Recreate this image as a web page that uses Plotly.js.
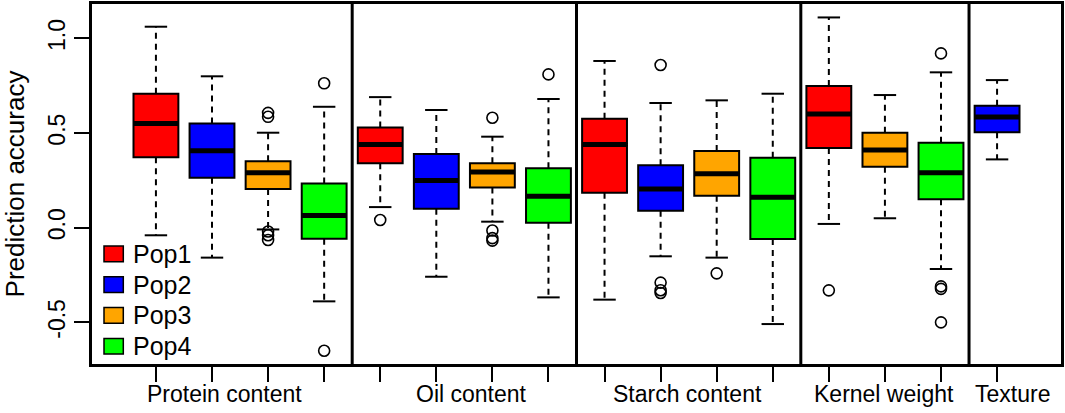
<!DOCTYPE html>
<html>
<head>
<meta charset="utf-8">
<script src="https://cdn.plot.ly/plotly-3.0.1.min.js"></script>
<style>
html, body { margin: 0; padding: 0; background: #fff; }
#chart { width: 1065px; height: 413px; }
</style>
</head>
<body>
<div id="chart"></div>
<script>
var groups = ['Protein content', 'Oil content', 'Starch content', 'Kernel weight', 'Texture'];
var pops = ['Pop1', 'Pop2', 'Pop3', 'Pop4'];

// one entry per box, left to right
var boxGroup = [0, 0, 0, 0, 1, 1, 1, 1, 2, 2, 2, 2, 3, 3, 3, 4];
var boxPop   = [0, 1, 2, 3, 0, 1, 2, 3, 0, 1, 2, 3, 0, 2, 3, 1];

var lowerWhisker = [-0.040, -0.158, -0.009, -0.389, 0.109, -0.259, 0.032, -0.368, -0.380, -0.151, -0.158, -0.509, 0.020, 0.050, -0.218, 0.361];
var q1     = [0.372, 0.264, 0.204, -0.058, 0.340, 0.100, 0.213, 0.026, 0.185, 0.090, 0.169, -0.060, 0.421, 0.322, 0.150, 0.504];
var median = [0.551, 0.407, 0.291, 0.065, 0.440, 0.250, 0.294, 0.166, 0.440, 0.204, 0.285, 0.161, 0.601, 0.410, 0.291, 0.585];
var q3     = [0.708, 0.551, 0.351, 0.234, 0.530, 0.389, 0.340, 0.314, 0.576, 0.330, 0.405, 0.370, 0.749, 0.502, 0.449, 0.645];
var upperWhisker = [1.062, 0.800, 0.502, 0.639, 0.690, 0.622, 0.481, 0.680, 0.881, 0.659, 0.673, 0.708, 1.111, 0.701, 0.821, 0.780];
var outliers = [
  [], [], [0.607, 0.586, -0.020, -0.040, -0.065], [0.763, -0.650],
  [0.041], [], [0.581, -0.015, -0.055, -0.068], [0.810],
  [], [0.860, -0.290, -0.330, -0.345], [-0.241], [],
  [-0.331], [], [0.921, -0.310, -0.323, -0.500],
  []
];

// styling
var popColors = ['#FF0000', '#0000FF', '#FFA500', '#00FF00'];
var FONT = 'Liberation Sans, Arial, Helvetica, sans-serif';
var boxW = 0.8, capHalf = 0.2;
var labelX = [2.23, 6.62, 10.48, 13.99, 16.28];

var pos = boxPop.map(function (d, i) { return i + 1; });

var data = [];

pops.forEach(function (name, p) {
  var idx = [];
  boxPop.forEach(function (bp, i) { if (bp === p) idx.push(i); });
  data.push({
    type: 'box',
    orientation: 'v',
    name: name,
    x: idx.map(function (i) { return pos[i]; }),
    q1: idx.map(function (i) { return q1[i]; }),
    median: idx.map(function (i) { return median[i]; }),
    q3: idx.map(function (i) { return q3[i]; }),
    lowerfence: idx.map(function (i) { return q1[i]; }),
    upperfence: idx.map(function (i) { return q3[i]; }),
    width: boxW,
    whiskerwidth: 0,
    boxpoints: false,
    fillcolor: popColors[p],
    line: { color: '#000', width: 2 },
    hoverinfo: 'skip',
    showlegend: false
  });
});

var wx = [], wy = [], cx = [], cy = [], mx = [], my = [], ox = [], oy = [];
pos.forEach(function (x, i) {
  wx.push(x, x, null, x, x, null);
  wy.push(q3[i], upperWhisker[i], null, q1[i], lowerWhisker[i], null);
  cx.push(x - capHalf, x + capHalf, null, x - capHalf, x + capHalf, null);
  cy.push(upperWhisker[i], upperWhisker[i], null, lowerWhisker[i], lowerWhisker[i], null);
  mx.push(x - boxW / 2, x + boxW / 2, null);
  my.push(median[i], median[i], null);
  outliers[i].forEach(function (v) { ox.push(x); oy.push(v); });
});

data.push({
  type: 'scatter', mode: 'lines', x: wx, y: wy,
  line: { color: '#000', width: 2, dash: '6px,5px' },
  hoverinfo: 'skip', showlegend: false
});
data.push({
  type: 'scatter', mode: 'lines', x: cx, y: cy,
  line: { color: '#000', width: 2 },
  hoverinfo: 'skip', showlegend: false
});
data.push({
  type: 'scatter', mode: 'lines', x: mx, y: my,
  line: { color: '#000', width: 5 },
  hoverinfo: 'skip', showlegend: false
});
data.push({
  type: 'scatter', mode: 'markers', x: ox, y: oy,
  marker: { symbol: 'circle-open', size: 11, color: '#000', line: { width: 1.6, color: '#000' } },
  hoverinfo: 'skip', showlegend: false
});

var shapes = [];
for (var i = 1; i < boxGroup.length; i++) {
  if (boxGroup[i] !== boxGroup[i - 1]) {
    shapes.push({
      type: 'line', xref: 'x', yref: 'paper',
      x0: i + 0.5, x1: i + 0.5, y0: 0, y1: 1,
      line: { color: '#000', width: 3 }
    });
  }
}

var annotations = groups.map(function (g, k) {
  return {
    text: g, xref: 'x', yref: 'paper', x: labelX[k], y: 0,
    xanchor: 'center', yanchor: 'middle', yshift: -30,
    showarrow: false, font: { family: FONT, size: 23, color: '#000' }
  };
});

// legend drawn as squares + labels (plot area: 969 x 360 px)
var pw = 969, ph = 360;
pops.forEach(function (name, p) {
  var top = 246 - 4 + p * 30.8;   // px from top of plot area
  shapes.push({
    type: 'rect', xref: 'paper', yref: 'paper',
    x0: 12 / pw, x1: 31.3 / pw,
    y0: 1 - (top + 15.7) / ph, y1: 1 - top / ph,
    fillcolor: popColors[p], line: { color: '#000', width: 1.5 }
  });
  annotations.push({
    text: name, xref: 'paper', yref: 'paper',
    x: 39 / pw, y: 1 - (top + 7.85) / ph,
    xanchor: 'left', yanchor: 'middle',
    showarrow: false, font: { family: FONT, size: 25, color: '#000' }
  });
});

var layout = {
  width: 1065,
  height: 413,
  margin: { l: 92, r: 4, t: 4, b: 49 },
  paper_bgcolor: '#fff',
  plot_bgcolor: '#fff',
  font: { family: FONT, color: '#000' },
  showlegend: false,
  xaxis: {
    range: [-0.14, 17.14],
    tickvals: pos,
    ticktext: pos.map(function () { return ''; }),
    ticks: 'outside', ticklen: 15, tickwidth: 2, tickcolor: '#000',
    showline: true, mirror: true, linewidth: 3, linecolor: '#000',
    showgrid: false, zeroline: false, fixedrange: true
  },
  yaxis: {
    range: [-0.72, 1.182],
    tickvals: [-0.5, 0, 0.5, 1],
    ticktext: ['-0.5', '0.0', '0.5', '1.0'],
    tickangle: -90,
    tickfont: { family: FONT, size: 23, color: '#000' },
    ticks: 'outside', ticklen: 15, tickwidth: 2, tickcolor: '#000',
    showline: true, mirror: true, linewidth: 3, linecolor: '#000',
    showgrid: false, zeroline: false, fixedrange: true,
    title: { text: 'Prediction accuracy', font: { family: FONT, size: 26, color: '#000' }, standoff: 13 }
  },
  shapes: shapes,
  annotations: annotations
};

Plotly.newPlot('chart', data, layout, { displayModeBar: false, staticPlot: true });
</script>
</body>
</html>
